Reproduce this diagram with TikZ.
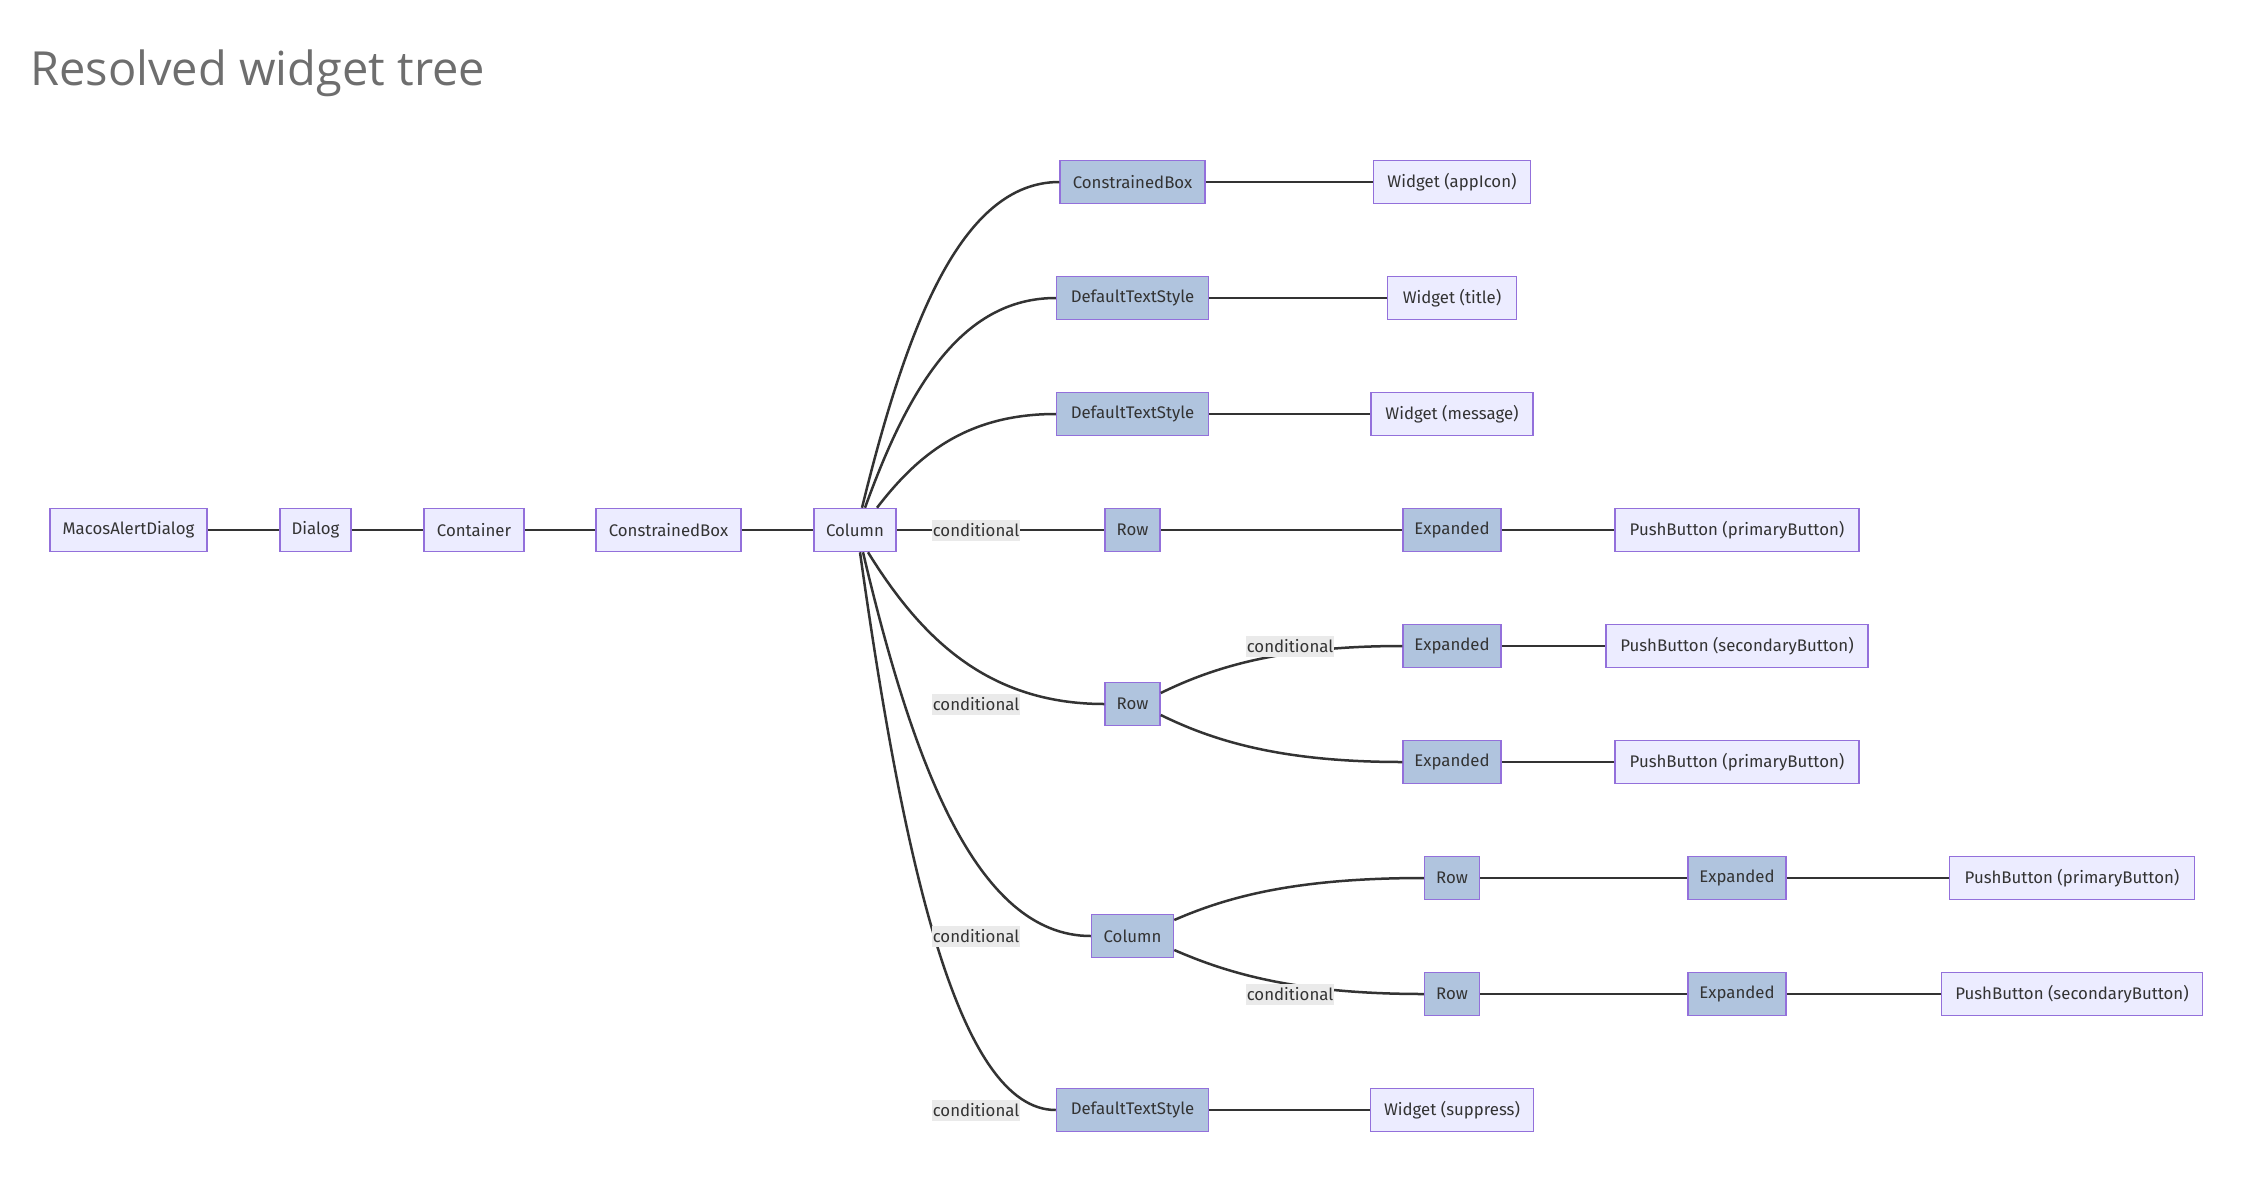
\documentclass[tikz,border=0pt]{standalone}
\usepackage{fontspec}
\newfontfamily\nodefont{Fira Sans}
\newfontfamily\titlefont{Open Sans}
\definecolor{nodefill}{HTML}{ECECFF}
\definecolor{nodedark}{HTML}{B0C4DE}
\definecolor{nodeline}{HTML}{9370DB}
\definecolor{edgecol}{HTML}{333333}
\definecolor{lblfill}{HTML}{EAEAEA}
\definecolor{titlecol}{HTML}{6E6E6E}
\begin{document}
\begin{tikzpicture}[x=1pt,y=-1pt,
  box/.style={draw=nodeline, line width=1.5pt, fill=nodefill, minimum height=43pt, inner sep=0pt,
    font=\nodefont\fontsize{16.8}{19}\selectfont, text=edgecol},
  dark/.style={box, fill=nodedark},
  wd/.style={minimum width=#1pt},
  edge/.style={draw=edgecol, line width=2.5pt},
  lbl/.style={fill=lblfill, inner xsep=1pt, inner ysep=0pt, minimum height=21pt,
    font=\nodefont\fontsize{16.8}{19}\selectfont, text=edgecol}]
\path[use as bounding box, fill=white] (0,0) rectangle (2266,1202);

\node[anchor=base west, inner sep=0pt, font=\titlefont\fontsize{47}{52}\selectfont, text=titlecol] (title) at (30,85) {Resolved widget tree};

% main chain
\node[box, wd=157] (mad) at (128.5,530) {MacosAlertDialog};
\node[box, wd=71] (dlg) at (315.5,530) {Dialog};
\node[box, wd=100] (cont) at (474,530) {Container};
\node[box, wd=145] (cb0) at (668.5,530) {ConstrainedBox};
\node[box, wd=82] (col) at (855,530) {Column};

% level 5
\node[dark, wd=145] (cb1) at (1132.5,182) {ConstrainedBox};
\node[dark, wd=152] (dts1) at (1132.5,298) {DefaultTextStyle};
\node[dark, wd=152] (dts2) at (1132.5,414) {DefaultTextStyle};
\node[dark, wd=55] (row1) at (1132.5,530) {Row};
\node[dark, wd=55] (row2) at (1132.5,704) {Row};
\node[dark, wd=82] (col2) at (1132.5,936) {Column};
\node[dark, wd=152] (dts3) at (1132.5,1110) {DefaultTextStyle};

% level 6
\node[box, wd=157] (wapp) at (1452,182) {Widget (appIcon)};
\node[box, wd=129] (wtit) at (1452,298) {Widget (title)};
\node[box, wd=162] (wmsg) at (1452,414) {Widget (message)};
\node[dark, wd=98] (exp1) at (1452,530) {Expanded};
\node[dark, wd=98] (exp2) at (1452,646) {Expanded};
\node[dark, wd=98] (exp3) at (1452,762) {Expanded};
\node[dark, wd=55] (row3) at (1452,878) {Row};
\node[dark, wd=55] (row4) at (1452,994) {Row};
\node[box, wd=163] (wsup) at (1452,1110) {Widget (suppress)};

% level 7
\node[box, wd=244] (pb1) at (1737,530) {PushButton (primaryButton)};
\node[box, wd=262] (pb2) at (1737,646) {PushButton (secondaryButton)};
\node[box, wd=244] (pb3) at (1737,762) {PushButton (primaryButton)};
\node[dark, wd=98] (exp4) at (1737,878) {Expanded};
\node[dark, wd=98] (exp5) at (1737,994) {Expanded};

% level 8
\node[box, wd=245] (pb4) at (2072,878) {PushButton (primaryButton)};
\node[box, wd=261] (pb5) at (2072,994) {PushButton (secondaryButton)};

% straight edges
\draw[edge] (mad.east) -- (dlg.west);
\draw[edge] (dlg.east) -- (cont.west);
\draw[edge] (cont.east) -- (cb0.west);
\draw[edge] (cb0.east) -- (col.west);
\draw[edge] (col.east) -- (row1.west);
\draw[edge] (cb1.east) -- (wapp.west);
\draw[edge] (dts1.east) -- (wtit.west);
\draw[edge] (dts2.east) -- (wmsg.west);
\draw[edge] (row1.east) -- (exp1.west);
\draw[edge] (exp1.east) -- (pb1.west);
\draw[edge] (exp2.east) -- (pb2.west);
\draw[edge] (exp3.east) -- (pb3.west);
\draw[edge] (row3.east) -- (exp4.west);
\draw[edge] (exp4.east) -- (pb4.west);
\draw[edge] (row4.east) -- (exp5.west);
\draw[edge] (exp5.east) -- (pb5.west);
\draw[edge] (dts3.east) -- (wsup.west);

% curved edges from Column
\draw[edge] ([xshift=7pt]col.north) .. controls +(44,-179) and +(-99,0) .. (cb1.west);
\draw[edge] ([xshift=10pt]col.north) .. controls +(42,-116) and +(-96,0) .. (dts1.west);
\draw[edge] ([xshift=22pt]col.north) .. controls +(40,-52) and +(-90,0) .. (dts2.west);
\draw[edge] ([xshift=13pt]col.south) .. controls +(52,84) and +(-118,0) .. (row2.west);
\draw[edge] ([xshift=8pt]col.south) .. controls +(50,212) and +(-114,0) .. (col2.west);
\draw[edge] ([xshift=5pt]col.south) .. controls +(43,307) and +(-98,0) .. (dts3.west);

% curved edges from Row and Column (level 5)
\draw[edge] ([yshift=11pt]row2.east) .. controls +(53,-26) and +(-121,0) .. (exp2.west);
\draw[edge] ([yshift=-11pt]row2.east) .. controls +(53,26) and +(-121,0) .. (exp3.west);
\draw[edge] ([yshift=16pt]col2.east) .. controls +(55,-24) and +(-126,0) .. (row3.west);
\draw[edge] ([yshift=-14pt]col2.east) .. controls +(55,24) and +(-126,0) .. (row4.west);

% labels
\node[lbl] (l1) at (976,530) {conditional};
\node[lbl] (l2) at (976,704) {conditional};
\node[lbl] (l3) at (1290,646) {conditional};
\node[lbl] (l4) at (976,936) {conditional};
\node[lbl] (l5) at (1290,994) {conditional};
\node[lbl] (l6) at (976,1110) {conditional};
\end{tikzpicture}
\end{document}
